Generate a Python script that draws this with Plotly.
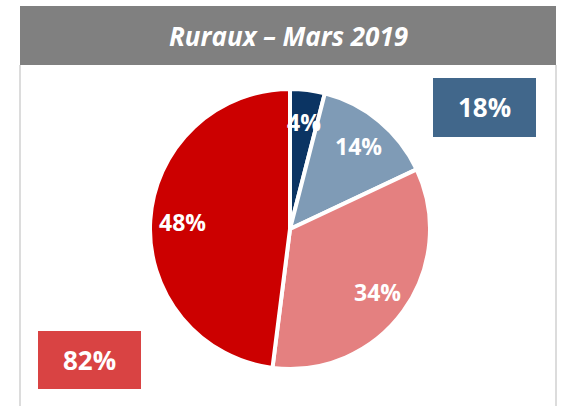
import math
import plotly.graph_objects as go

W, H = 566, 406

categories = ["A", "B", "C", "D"]
values = [4, 14, 34, 48]
slice_colors = ["#0b3463", "#7f9bb6", "#e48080", "#cc0000"]
title_text = "Ruraux – Mars 2019"
box_blue_text = "18%"
box_red_text = "82%"

def px(x):
    return x / W

def py(y):
    return 1 - y / H

# pie placement (pixels)
cx, cy, R = 290, 229, 140
label_frac = 0.77

fig = go.Figure()
fig.add_trace(go.Pie(
    labels=categories,
    values=values,
    sort=False,
    direction="clockwise",
    rotation=0,
    marker=dict(colors=slice_colors, line=dict(color="white", width=4)),
    textinfo="none",
    showlegend=False,
    hoverinfo="label+value",
    domain=dict(x=[px(cx - R), px(cx + R)], y=[py(cy + R), py(cy - R)]),
))

shapes = [
    dict(type="rect", xref="paper", yref="paper", x0=px(20), x1=px(556), y0=py(65), y1=py(6),
         fillcolor="#808080", line=dict(width=0), layer="below"),
    dict(type="line", xref="paper", yref="paper", x0=px(20), x1=px(20), y0=py(65), y1=0,
         line=dict(color="#dcdcdc", width=2)),
    dict(type="line", xref="paper", yref="paper", x0=px(556), x1=px(556), y0=py(65), y1=0,
         line=dict(color="#dcdcdc", width=2)),
    dict(type="rect", xref="paper", yref="paper", x0=px(433), x1=px(536), y0=py(137), y1=py(78),
         fillcolor="#41678b", line=dict(width=0), layer="below"),
    dict(type="rect", xref="paper", yref="paper", x0=px(38), x1=px(141), y0=py(389), y1=py(331),
         fillcolor="#d94343", line=dict(width=0), layer="below"),
]

annotations = [
    dict(text=title_text, x=px(288), y=py(36), xref="paper", yref="paper", showarrow=False,
         font=dict(family="Open Sans", size=26, color="white", weight="bold", style="italic"),
         xanchor="center", yanchor="middle"),
    dict(text=box_blue_text, x=px(484.5), y=py(107), xref="paper", yref="paper", showarrow=False,
         font=dict(family="Open Sans", size=26, color="white", weight="bold"),
         xanchor="center", yanchor="middle"),
    dict(text=box_red_text, x=px(89.5), y=py(360), xref="paper", yref="paper", showarrow=False,
         font=dict(family="Open Sans", size=26, color="white", weight="bold"),
         xanchor="center", yanchor="middle"),
]

# slice labels placed along each slice's mid-angle (derived from the values)
total = sum(values)
cum = 0
for v in values:
    mid = (cum + v / 2) / total * 2 * math.pi
    cum += v
    lx = cx + label_frac * R * math.sin(mid)
    ly = cy - label_frac * R * math.cos(mid)
    annotations.append(dict(
        text=f"{round(v / total * 100)}%", x=px(lx), y=py(ly), xref="paper", yref="paper",
        showarrow=False, xanchor="center", yanchor="middle",
        font=dict(family="Open Sans", size=23, color="white", weight="bold"),
    ))

fig.update_layout(
    width=W, height=H,
    margin=dict(l=0, r=0, t=0, b=0),
    paper_bgcolor="white",
    plot_bgcolor="white",
    shapes=shapes,
    annotations=annotations,
)

fig.write_html("out.html", config={"displayModeBar": False},
               post_script="document.body.style.margin='0';")
